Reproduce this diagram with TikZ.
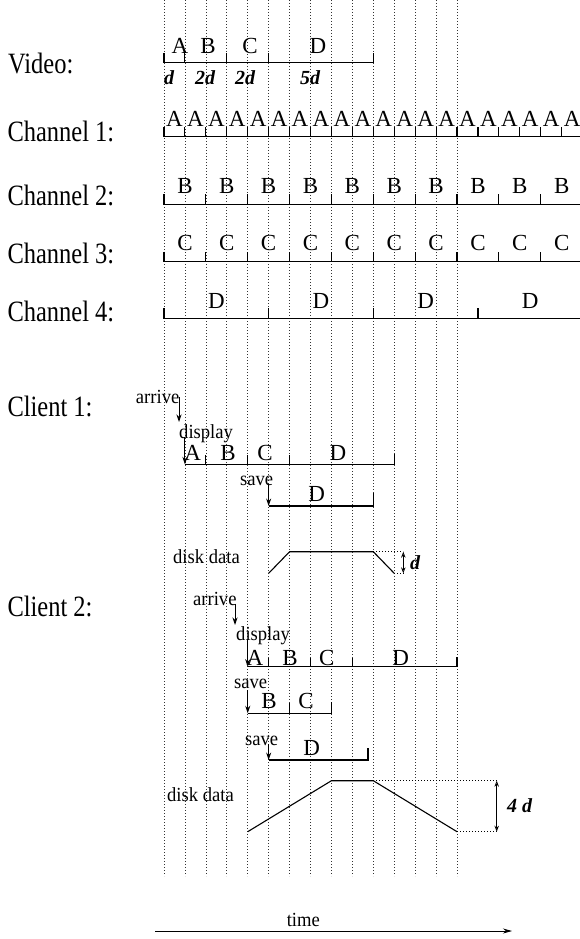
\documentclass[tikz,border=0pt]{standalone}
\usepackage{fontspec}
\setmainfont{Liberation Serif}
\newfontfamily\tallserif[FakeStretch=0.83]{Liberation Serif}
\newfontfamily\midserif[FakeStretch=0.93]{Liberation Serif}
\usetikzlibrary{arrows.meta}
\def\g#1{164+20.93*(#1)}
\begin{document}
\begin{tikzpicture}[x=1pt,y=-1pt,
  gridline/.style={black!80, line width=0.65pt, dash pattern=on 0.7pt off 2.3pt},
  tl/.style={line width=1.1pt},
  big/.style={font=\tallserif\fontsize{29.5}{31}\selectfont, inner sep=0pt},
  lett/.style={font=\fontsize{23}{24}\selectfont, inner sep=0pt, anchor=base},
  sm/.style={font=\midserif\fontsize{20}{22}\selectfont, inner sep=0pt},
  dl/.style={font=\fontsize{20}{22}\selectfont\bfseries\itshape, inner sep=0pt},
  ptr/.style={-{Stealth[length=7.5pt,width=5pt]}, line width=0.9pt},
  dimarrow/.style={{Stealth[open,length=6pt,width=4.5pt]}-{Stealth[open,length=6pt,width=4.5pt]}, line width=0.7pt},
  dotline/.style={line width=0.7pt, dash pattern=on 0.8pt off 2.2pt},
]
\useasboundingbox (0,0) rectangle (580,939);

% grid
\foreach \i in {0,...,14} \draw[gridline] ({\g{\i}},0) -- ({\g{\i}},876);

% left labels
\node[big, anchor=base west] (lvideo) at (8,73.3) {Video:};
\node[big, anchor=base west] (lch1) at (7.3,141.7) {Channel 1:};
\node[big, anchor=base west] (lch2) at (7.3,205) {Channel 2:};
\node[big, anchor=base west] (lch3) at (7.3,263.3) {Channel 3:};
\node[big, anchor=base west] (lch4) at (7.3,321.7) {Channel 4:};
\node[big, anchor=base west] (lcl1) at (7.3,416.7) {Client 1:};
\node[big, anchor=base west] (lcl2) at (7.3,616.7) {Client 2:};

% video
\draw[tl] ({\g0},52.7) -- ({\g0},62.7) -- ({\g{10}},62.7) -- ({\g{10}},52.7);
\foreach \t in {1,3,5} \draw[tl] ({\g{\t}},62.7) -- ({\g{\t}},52.7);
\node[lett] (vA) at (180,53.3) {A};
\node[lett] (vB) at (208,53.3) {B};
\node[lett] (vC) at (250,53.3) {C};
\node[lett] (vD) at (318,53.3) {D};
\node[dl, anchor=base west] (vd1) at (164,85) {d};
\node[dl, anchor=base] (vd2) at (205,85) {2d};
\node[dl, anchor=base] (vd3) at (245,85) {2d};
\node[dl, anchor=base] (vd4) at (310,85) {5d};

% channel 1
\draw[tl] ({\g0},126.7) -- ({\g0},136.7) -- (580,136.7);
\foreach \t in {1,...,19} \draw[tl] ({\g{\t}},136.7) -- ({\g{\t}},126.7);
\foreach \t in {0,...,19} \node[lett] (c1a\t) at ({\g{\t+0.5}},126.7) {A};

% channel 2
\draw[tl] ({\g0},194.3) -- ({\g0},204.3) -- (580,204.3);
\foreach \t in {2,4,...,18} \draw[tl] ({\g{\t}},204.3) -- ({\g{\t}},194.3);
\foreach \t in {0,...,9} \node[lett] (c2b\t) at ({\g{2*\t+1}},193.3) {B};

% channel 3
\draw[tl] ({\g0},251.7) -- ({\g0},261.7) -- (580,261.7);
\foreach \t in {2,4,...,18} \draw[tl] ({\g{\t}},261.7) -- ({\g{\t}},251.7);
\foreach \t in {0,...,9} \node[lett] (c3c\t) at ({\g{2*\t+1}},250) {C};

% channel 4
\draw[tl] ({\g0},308.3) -- ({\g0},318.3) -- (580,318.3);
\foreach \t in {5,10,15} \draw[tl] ({\g{\t}},318.3) -- ({\g{\t}},308.3);
\foreach \t in {0,...,3} \node[lett] (c4d\t) at ({\g{5*\t+2.5}},308) {D};

% client 1
\node[sm, anchor=base east] (arr1) at (179.5,403) {arrive};
\coordinate (arr1s) at (179,397);
\coordinate (arr1e) at (179,422);
\draw[ptr] (arr1s) -- (arr1e);
\node[sm, anchor=base west] (disp1) at (179,438.3) {display};
\coordinate (disp1s) at ({\g1},437);
\coordinate (disp1e) at ({\g1},464.3);
\draw[ptr] (disp1s) -- (disp1e);
\draw[tl] ({\g1},464.3) -- ({\g{11}},464.3) -- ({\g{11}},454.3);
\foreach \t in {2,4,6} \draw[tl] ({\g{\t}},464.3) -- ({\g{\t}},455.3);
\node[lett] (d1A) at (192.7,460) {A};
\node[lett] (d1B) at (228,460) {B};
\node[lett] (d1C) at (265,460) {C};
\node[lett] (d1D) at (338,460) {D};
\node[sm, anchor=base west] (save1) at (240,485) {save};
\coordinate (save1s) at ({\g5},484);
\coordinate (save1e) at ({\g5},506);
\draw[ptr] (save1s) -- (save1e);
\draw[tl] ({\g5},506) -- ({\g{10}},506) -- ({\g{10}},493);
\node[lett] (s1D) at (316.7,501.7) {D};
\node[sm, anchor=base east] (disk1) at (240,563.3) {disk data};
\draw[tl] ({\g5},573.3) -- ({\g6},551.7) -- ({\g{10}},551.7) -- ({\g{11}},573.3);
\coordinate (k1a) at (403.3,551.7);
\coordinate (k1b) at (403.3,573.3);
\draw[dotline] ({\g{10}},551.7) -- (k1a);
\draw[dotline] ({\g{11}},573.3) -- (k1b);
\draw[dimarrow] (k1a) -- (k1b);
\node[dl, anchor=base west] (dd1) at (410,569) {d};

% client 2
\node[sm, anchor=base east] (arr2) at (236.7,605) {arrive};
\coordinate (arr2s) at (235,604);
\coordinate (arr2e) at (235,625);
\draw[ptr] (arr2s) -- (arr2e);
\node[sm, anchor=base west] (disp2) at (236,640) {display};
\coordinate (disp2s) at ({\g4},639);
\coordinate (disp2e) at ({\g4},666.7);
\draw[ptr] (disp2s) -- (disp2e);
\draw[tl] ({\g4},666.7) -- ({\g{14}},666.7) -- ({\g{14}},656.7);
\foreach \t in {5,7,9} \draw[tl] ({\g{\t}},666.7) -- ({\g{\t}},657.7);
\node[lett] (d2A) at (255,665) {A};
\node[lett] (d2B) at (290,665) {B};
\node[lett] (d2C) at (326.7,665) {C};
\node[lett] (d2D) at (400.7,665) {D};
\node[sm, anchor=base west] (save2) at (234,688) {save};
\coordinate (save2s) at ({\g4},690);
\coordinate (save2e) at ({\g4},713.3);
\draw[ptr] (save2s) -- (save2e);
\draw[tl] ({\g4},713.3) -- ({\g8},713.3) -- ({\g8},701.6);
\draw[tl] ({\g6},713.3) -- ({\g6},703.3);
\node[lett] (s2B) at (269,708.3) {B};
\node[lett] (s2C) at (306,708.3) {C};
\node[sm, anchor=base west] (save3) at (245,745) {save};
\coordinate (save3s) at ({\g5},744);
\coordinate (save3e) at ({\g5},760);
\draw[ptr] (save3s) -- (save3e);
\draw[tl] ({\g5},760) -- (368,760) -- (368,748);
\node[lett] (s3D) at (311.7,755) {D};
\node[sm, anchor=base east] (disk2) at (234,801.7) {disk data};
\draw[tl] ({\g4},831.7) -- ({\g8},780.7) -- ({\g{10}},780.7) -- ({\g{14}},831.7);
\coordinate (k2a) at (496.7,780.7);
\coordinate (k2b) at (496.7,831.7);
\draw[dotline] ({\g{10}},780.7) -- (k2a);
\draw[dotline] ({\g{14}},831.7) -- (k2b);
\draw[dimarrow] (k2a) -- (k2b);
\node[dl, anchor=base west] (dd2) at (507,812) {4 d};

% time
\coordinate (t0) at (155,931);
\coordinate (t1) at (512,931);
\draw[-{Stealth[length=9pt,width=5pt]}, line width=0.9pt] (t0) -- (t1);
\node[sm, anchor=base] (ltime) at (303.3,926.7) {time};
\end{tikzpicture}
\end{document}
